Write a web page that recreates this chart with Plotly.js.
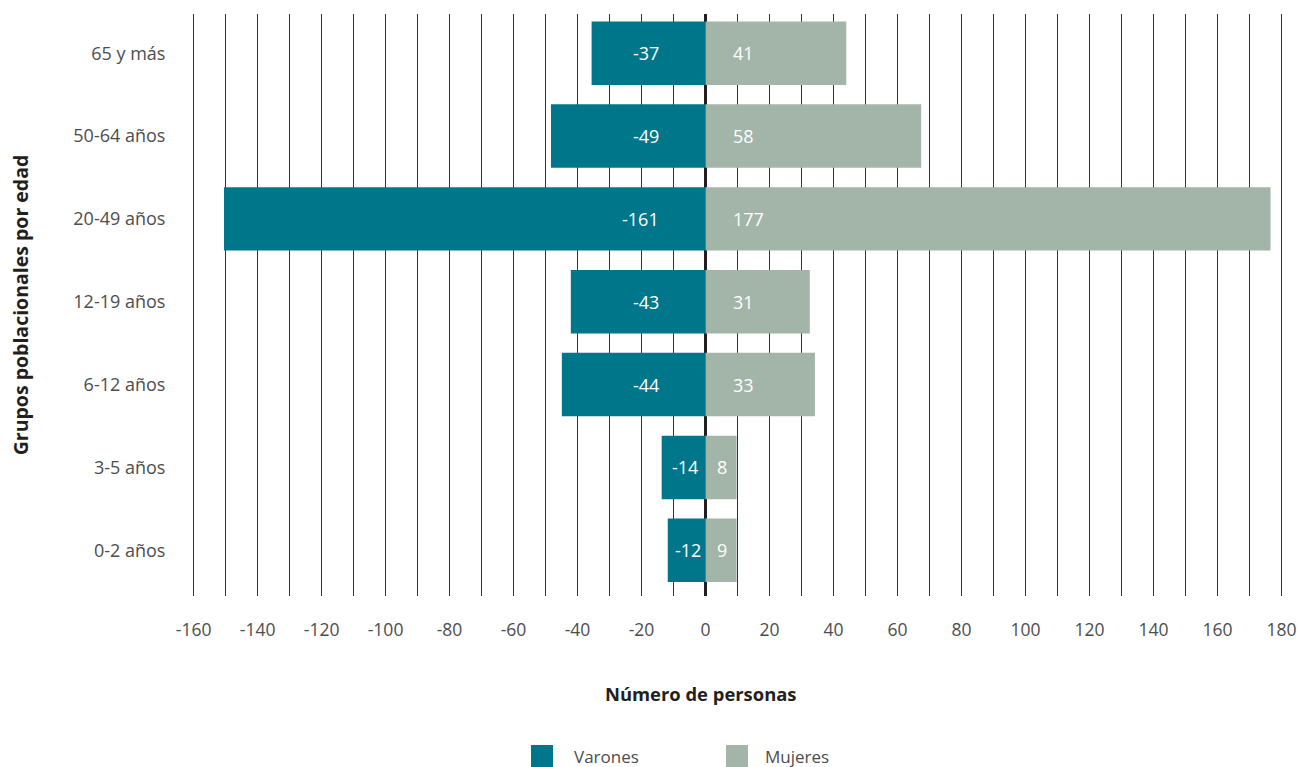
<!DOCTYPE html>
<html>
<head>
<meta charset="utf-8">
<script src="https://cdn.plot.ly/plotly-3.0.1.min.js"></script>
<style>html,body{margin:0;padding:0;background:#fff;}#chart{width:1299px;height:767px;}</style>
</head>
<body>
<div id="chart"></div>
<script>
// Age groups, bottom to top
const categories = ['0-2 años', '3-5 años', '6-12 años', '12-19 años', '20-49 años', '50-64 años', '65 y más'];
// Bar lengths as drawn in the picture
const varonesValues = [-11.8, -13.7, -44.9, -42.1, -150.5, -48.3, -35.6];
const mujeresValues = [9.7, 9.7, 34.2, 32.6, 176.6, 67.4, 44.0];
// Labels printed on the bars
const varonesLabels = ['-12', '-14', '-44', '-43', '-161', '-49', '-37'];
const mujeresLabels = ['9', '8', '33', '31', '177', '58', '41'];
// X axis ticks
const xTickVals = [-160, -140, -120, -100, -80, -60, -40, -20, 0, 20, 40, 60, 80, 100, 120, 140, 160, 180];
const xTickText = ['-160', '-140', '-120', '-100', '-80', '-60', '-40', '-20', '0', '20', '40', '60', '80', '100', '120', '140', '160', '180'];
const seriesNames = ['Varones', 'Mujeres'];
const xTitle = 'Número de personas';
const yTitle = 'Grupos poblacionales por edad';

const TEAL = '#00768A';
const SAGE = '#A2B5A8';
const FONT = '"Open Sans", "Noto Sans", sans-serif';
const W = 1299, H = 767;
const M = {l: 192, r: 16, t: 14, b: 171};
const PW = W - M.l - M.r, PH = H - M.t - M.b;
const px = x => (x - M.l) / PW;
const py = y => (M.t + PH - y) / PH;

const traces = [
  {type: 'bar', orientation: 'h', name: seriesNames[0], y: categories, x: varonesValues,
   marker: {color: TEAL, line: {width: 0}}, hoverinfo: 'skip', showlegend: false},
  {type: 'bar', orientation: 'h', name: seriesNames[1], y: categories, x: mujeresValues,
   marker: {color: SAGE, line: {width: 0}}, hoverinfo: 'skip', showlegend: false}
];

const annotations = [];
const labelFont = {family: FONT, size: 18, color: '#ffffff'};
categories.forEach((c, i) => {
  const v = varonesValues[i];
  if (v < -20) {
    annotations.push({x: 0, y: c, xref: 'x', yref: 'y', text: varonesLabels[i], showarrow: false,
      xanchor: 'right', yanchor: 'middle', xshift: -45, font: labelFont});
  } else {
    annotations.push({x: v / 2, y: c, xref: 'x', yref: 'y', text: varonesLabels[i], showarrow: false,
      xanchor: 'center', yanchor: 'middle', xshift: 1, font: labelFont});
  }
  const m = mujeresValues[i];
  if (m > 20) {
    annotations.push({x: 0, y: c, xref: 'x', yref: 'y', text: mujeresLabels[i], showarrow: false,
      xanchor: 'left', yanchor: 'middle', xshift: 25, font: labelFont});
  } else {
    annotations.push({x: m / 2, y: c, xref: 'x', yref: 'y', text: mujeresLabels[i], showarrow: false,
      xanchor: 'center', yanchor: 'middle', xshift: 1, font: labelFont});
  }
});

// X axis title (placed as in the reference, left of the plot centre)
annotations.push({xref: 'paper', yref: 'paper', x: px(700), y: py(693), xanchor: 'center', yanchor: 'middle',
  text: '<b>' + xTitle + '</b>', showarrow: false, font: {family: FONT, size: 18.4, color: '#231F20'}});

// Custom legend (large square swatches)
const legendItems = [
  {name: seriesNames[0], color: TEAL, x0: 531, tx: 572},
  {name: seriesNames[1], color: SAGE, x0: 726, tx: 763}
];
const shapes = [];
legendItems.forEach(it => {
  shapes.push({type: 'rect', xref: 'paper', yref: 'paper',
    x0: px(it.x0), x1: px(it.x0 + 22), y0: py(767), y1: py(745),
    fillcolor: it.color, line: {width: 0}});
  annotations.push({xref: 'paper', yref: 'paper', x: px(it.tx), y: py(756),
    xanchor: 'left', yanchor: 'middle', text: it.name, showarrow: false,
    font: {family: FONT, size: 17, color: '#4d4d4d'}});
});

const layout = {
  width: W, height: H,
  margin: M,
  paper_bgcolor: '#ffffff', plot_bgcolor: '#ffffff',
  font: {family: FONT, color: '#4d4d4d'},
  barmode: 'relative',
  bargap: 0.234,
  showlegend: false,
  xaxis: {
    range: [-160.5, 180.5],
    tickvals: xTickVals, ticktext: xTickText,
    showgrid: true, gridcolor: '#333333', gridwidth: 1,
    minor: {dtick: 10, showgrid: true, gridcolor: '#333333', gridwidth: 1},
    zeroline: true, zerolinecolor: '#231F20', zerolinewidth: 3,
    showline: false,
    ticks: 'outside', ticklen: 18, tickcolor: 'rgba(0,0,0,0)',
    tickfont: {family: FONT, size: 17.5, color: '#4d4d4d'},
    fixedrange: true
  },
  yaxis: {
    type: 'category',
    categoryorder: 'array', categoryarray: categories,
    range: [-0.552, 6.473],
    showgrid: false, zeroline: false, showline: false,
    ticks: 'outside', ticklen: 22, tickcolor: 'rgba(0,0,0,0)',
    tickfont: {family: FONT, size: 18, color: '#4d4d4d'},
    title: {text: yTitle, font: {family: FONT, size: 19.5, color: '#231F20', weight: 'bold'}, standoff: 39},
    fixedrange: true
  },
  annotations: annotations,
  shapes: shapes
};

Plotly.newPlot('chart', traces, layout, {displayModeBar: false, staticPlot: true});
</script>
</body>
</html>
